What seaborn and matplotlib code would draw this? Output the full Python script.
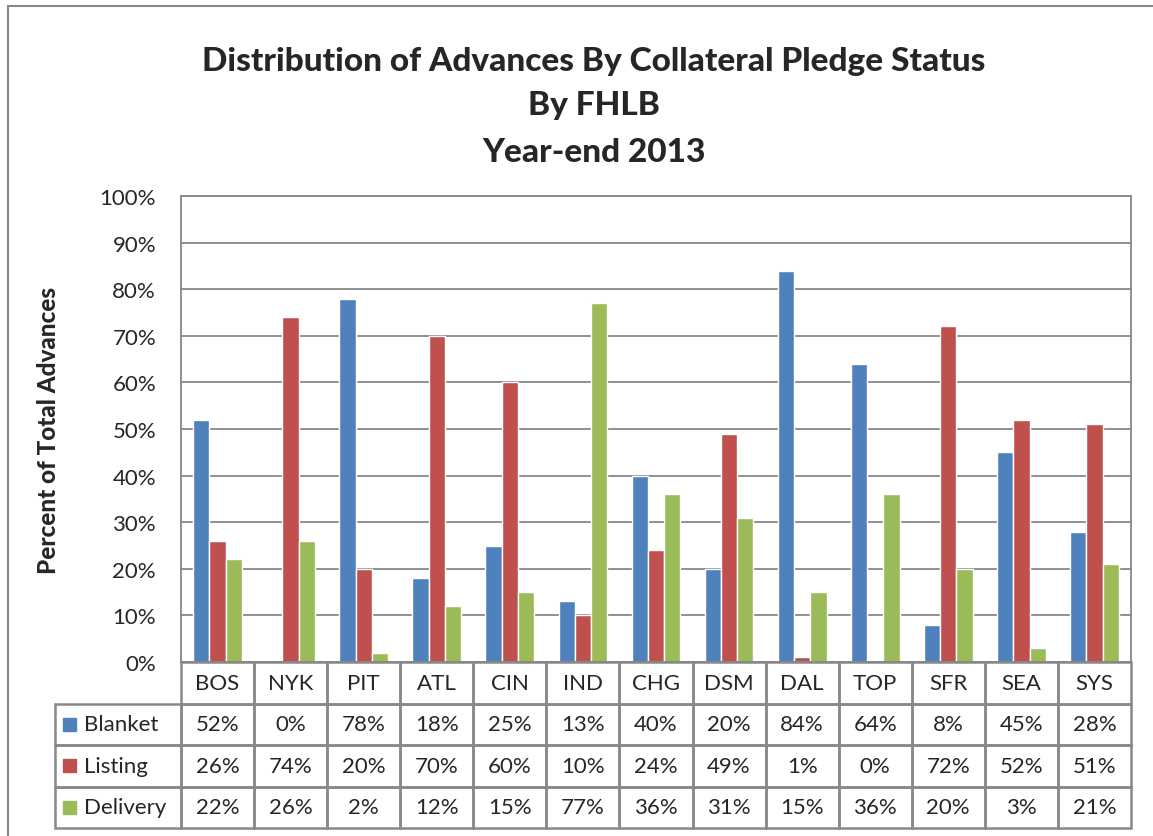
import matplotlib
matplotlib.use("Agg")
import matplotlib.pyplot as plt
from matplotlib.patches import Rectangle
from matplotlib.ticker import PercentFormatter
import pandas as pd
import seaborn as sns

banks = ['BOS', 'NYK', 'PIT', 'ATL', 'CIN', 'IND', 'CHG', 'DSM', 'DAL', 'TOP', 'SFR', 'SEA', 'SYS']
blanket = [52, 0, 78, 18, 25, 13, 40, 20, 84, 64, 8, 45, 28]
listing = [26, 74, 20, 70, 60, 10, 24, 49, 1, 0, 72, 52, 51]
delivery = [22, 26, 2, 12, 15, 77, 36, 31, 15, 36, 20, 3, 21]
series = ['Blanket', 'Listing', 'Delivery']
colors = ['#4F81BD', '#C0504D', '#9BBB59']
title_lines = ['Distribution of Advances By Collateral Pledge Status', 'By FHLB', 'Year-end 2013']

df = pd.DataFrame({'bank': banks, 'Blanket': blanket, 'Listing': listing, 'Delivery': delivery})
long_df = df.melt(id_vars='bank', value_vars=series, var_name='status', value_name='pct')

sns.set_style('white')
plt.rcParams['font.family'] = ['Lato', 'DejaVu Sans']
edge = '#888888'

fig = plt.figure(figsize=(11.53, 8.37), dpi=100)
ax = fig.add_axes([181 / 1153, 1 - 663 / 837, 950 / 1153, 466 / 837])

sns.barplot(data=long_df, x='bank', y='pct', hue='status', hue_order=series,
            palette=colors, width=0.667, saturation=1, legend=False, ax=ax)

ax.set_ylim(0, 100)
ax.set_xlim(-0.5, len(banks) - 0.5)
ax.set_yticks(range(0, 101, 10))
ax.yaxis.set_major_formatter(PercentFormatter(decimals=0))
ax.tick_params(axis='y', labelsize=16, pad=18, length=0)
ax.set_xticks([])
ax.set_xlabel('')
ax.set_ylabel('Percent of Total Advances', fontsize=17.5, fontweight='black')
ax.yaxis.set_label_coords(-0.127, 0.5)
ax.grid(axis='y', color=edge, lw=1.3)
ax.set_axisbelow(True)
for s in ax.spines.values():
    s.set_color(edge)
    s.set_linewidth(1.3)

# data table under the plot
trans = ax.get_xaxis_transform()
rh = 41.5 / 466
lab_left = -0.5 - 126 / (950 / len(banks))
rows = [None] + [df[s].tolist() for s in series]
for r, vals in enumerate(rows):
    y0 = -(r + 1) * rh
    for i, b in enumerate(banks):
        ax.add_patch(Rectangle((i - 0.5, y0), 1, rh, fill=False, ec=edge, lw=1.8,
                               transform=trans, clip_on=False))
        txt = b if vals is None else f'{vals[i]}%'
        ax.text(i, y0 + rh / 2, txt, ha='center', va='center', fontsize=16,
                transform=trans, clip_on=False)
    if vals is not None:
        ax.add_patch(Rectangle((lab_left, y0), -0.5 - lab_left, rh, fill=False, ec=edge, lw=1.8,
                               transform=trans, clip_on=False))
        ax.add_patch(Rectangle((lab_left + 0.11, y0 + rh / 2 - 6.5 / 466), 13 / 73, 13 / 466,
                               color=colors[r - 1], transform=trans, clip_on=False))
        ax.text(lab_left + 0.40, y0 + rh / 2, series[r - 1], ha='left', va='center', fontsize=16,
                transform=trans, clip_on=False)

# chart title
for line, yc in zip(title_lines, [62, 106, 152]):
    fig.text(594 / 1153, 1 - yc / 837, line, ha='center', va='center',
             fontsize=24, fontweight='black')

# chart area border
fig.patches.append(Rectangle((8 / 1153, -0.05), 1.1, 1.05 - 7 / 837, fill=False, ec=edge, lw=1.5,
                             transform=fig.transFigure, figure=fig))

fig.savefig('out.png', dpi=100, facecolor='white')
